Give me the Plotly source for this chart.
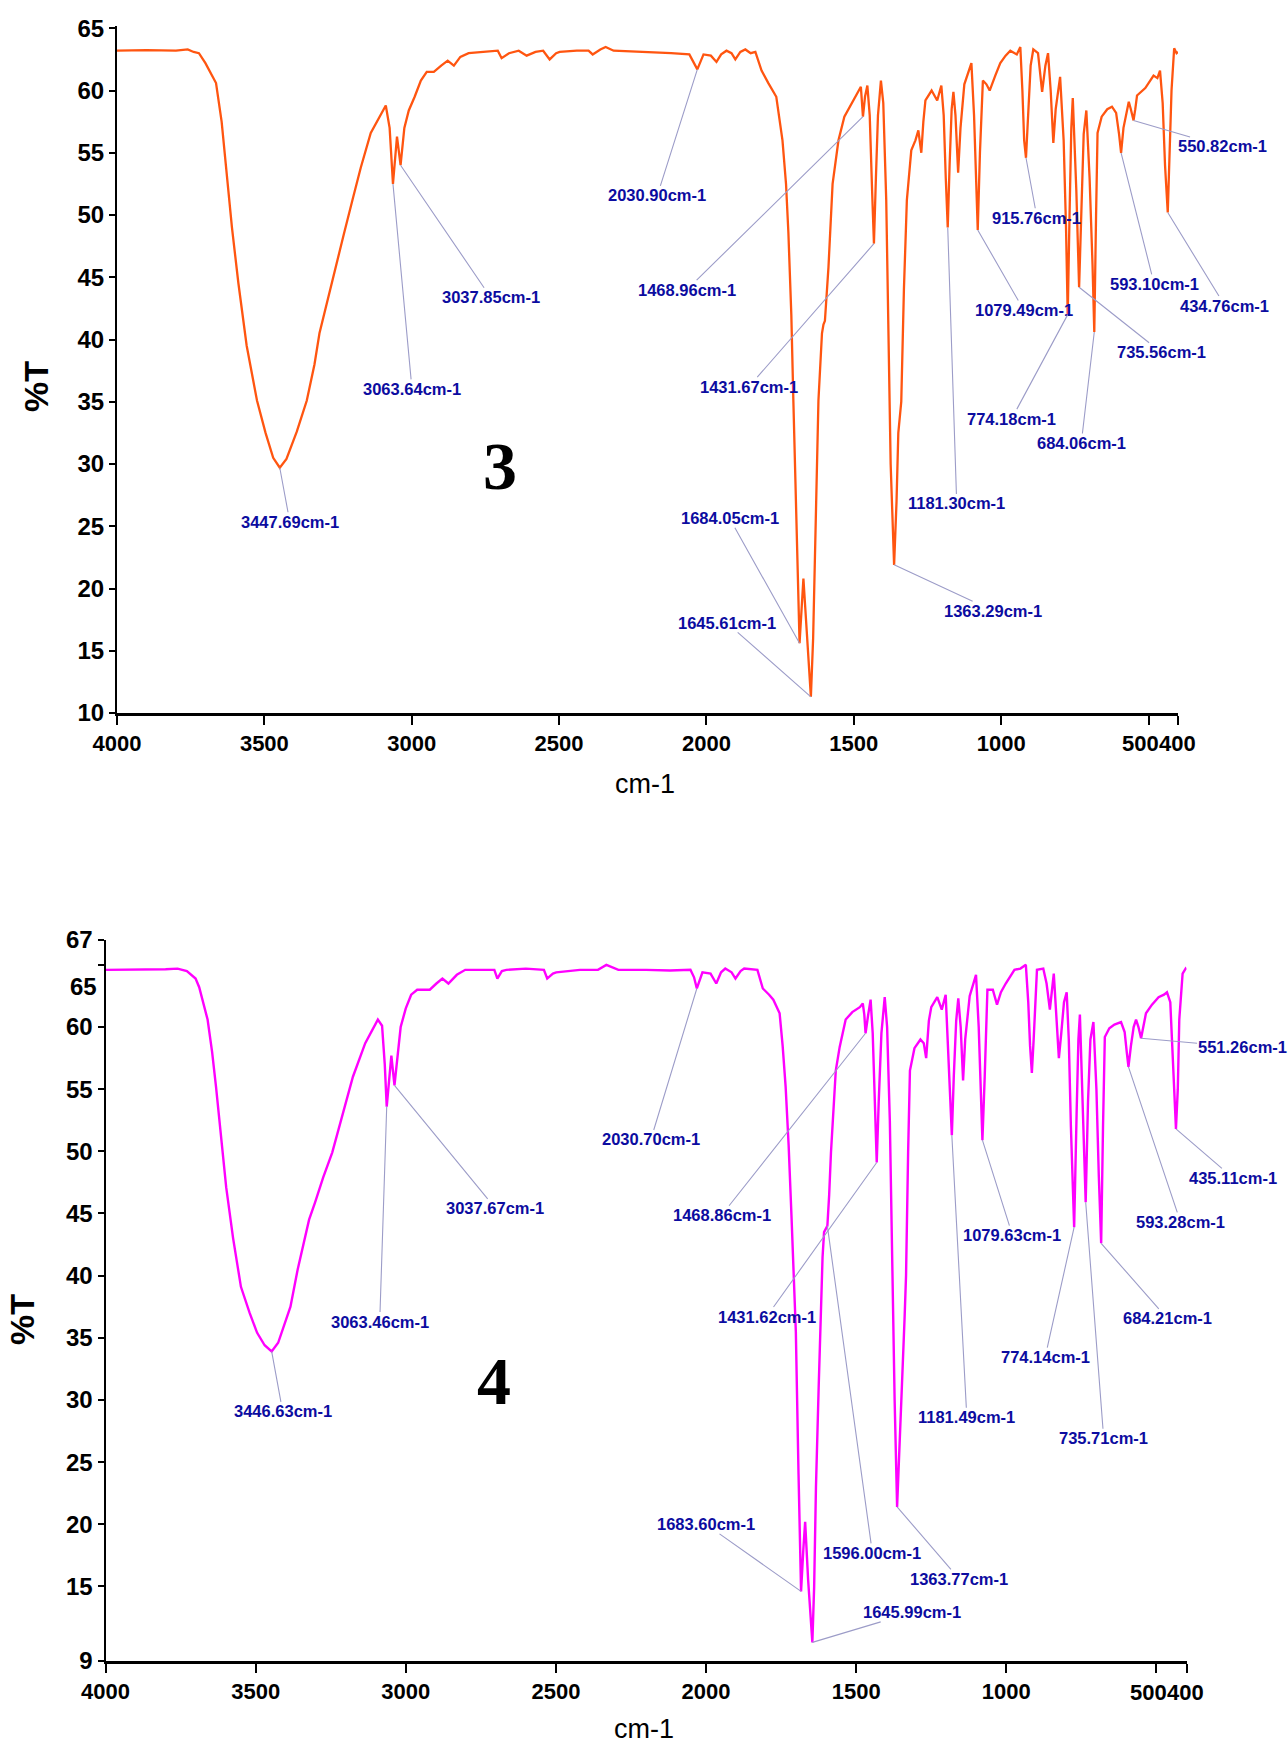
import plotly.graph_objects as go

# ---------------------------------------------------------------------------
# FT-IR spectra of compounds 3 and 4 (wavenumber / cm-1, transmittance / %T)
# ---------------------------------------------------------------------------
wn_3 = [4000, 3900, 3800, 3760, 3740, 3722, 3700, 3680, 3664, 3645, 3630, 3610,
        3588, 3560, 3525, 3496, 3470, 3447.69, 3425, 3410, 3390, 3356, 3330, 3313,
        3285, 3260, 3230, 3200, 3173, 3139, 3110, 3088, 3075, 3063.64, 3050, 3037.85,
        3025, 3010, 2990, 2969, 2949, 2925, 2900, 2878, 2857, 2835, 2807, 2760, 2708,
        2695, 2670, 2637, 2610, 2580, 2554, 2532, 2510, 2498, 2440, 2400, 2386, 2360,
        2342, 2315, 2250, 2180, 2120, 2058, 2030.90, 2010, 1985, 1966, 1950, 1932,
        1915, 1902, 1885, 1868, 1850, 1834, 1813, 1790, 1763, 1742, 1730, 1722, 1712,
        1705, 1695, 1684.05, 1671, 1660, 1645.61, 1638, 1630, 1620, 1608, 1603, 1598,
        1592, 1586, 1572, 1552, 1532, 1502, 1481, 1476, 1468.96, 1462, 1454, 1446,
        1438, 1431.67, 1425, 1418, 1408, 1400, 1390, 1383, 1375, 1363.29, 1355, 1349,
        1339, 1330, 1320, 1305, 1291, 1281, 1271, 1264, 1257, 1236, 1217, 1203, 1195,
        1188, 1181.30, 1175, 1168, 1162, 1155, 1146, 1138, 1125, 1101, 1092, 1085,
        1079.49, 1072, 1062, 1050, 1039, 1020, 1003, 985, 969, 947, 935, 928, 922,
        915.76, 909, 900, 891, 875, 861, 850, 841, 832, 823, 815, 800, 788, 780,
        774.18, 768, 762, 757, 745, 735.56, 728, 720, 711, 700, 690, 684.06, 678, 673,
        659, 640, 624, 610, 600, 593.10, 585, 567, 560, 550.82, 545, 539, 511, 483,
        470, 461, 452, 444, 434.76, 428, 422, 413, 405, 400]
t_3 = [63.2, 63.25, 63.2, 63.3, 63.1, 63.0, 62.2, 61.3, 60.6, 57.5, 53.8, 49.0,
       44.5, 39.5, 35.1, 32.5, 30.5, 29.7, 30.4, 31.3, 32.6, 35.1, 38.0, 40.5,
       43.2, 45.8, 48.5, 51.3, 53.8, 56.6, 57.8, 58.8, 57.0, 52.5, 56.3, 54.0,
       57.0, 58.4, 59.5, 60.8, 61.5, 61.5, 62.0, 62.4, 62.0, 62.7, 63.0, 63.1, 63.2,
       62.6, 63.0, 63.2, 62.8, 63.1, 63.2, 62.5, 63.0, 63.1, 63.2, 63.2, 62.9, 63.3,
       63.5, 63.2, 63.15, 63.1, 63.0, 62.9, 61.7, 62.9, 62.8, 62.3, 62.9, 63.2,
       63.0, 62.5, 63.1, 63.3, 63.0, 63.1, 61.6, 60.6, 59.5, 56.0, 52.5, 48.6, 42.0,
       35.0, 25.0, 15.6, 20.8, 17.0, 11.3, 16.0, 24.4, 35.1, 40.5, 41.2, 41.5,
       43.5, 45.8, 52.5, 56.0, 57.9, 59.2, 60.0, 60.3, 57.9, 59.5, 60.4, 58.0,
       52.0, 47.7, 53.0, 58.0, 60.8, 59.0, 51.2, 40.0, 30.0, 21.9, 27.0, 32.5,
       35.0, 44.0, 51.2, 55.2, 56.0, 56.8, 55.0, 57.5, 59.2, 60.0, 59.2, 60.4, 58.0,
       53.0, 49.0, 54.0, 58.5, 59.9, 58.0, 53.4, 57.0, 60.5, 62.2, 58.0, 52.0,
       48.8, 55.0, 60.8, 60.5, 60.0, 61.2, 62.2, 62.8, 63.2, 62.9, 63.5, 60.0, 56.0,
       54.6, 58.0, 62.0, 63.3, 63.0, 59.9, 62.0, 63.0, 60.0, 55.8, 58.5, 61.1, 56.0, 49.0,
       42.0, 50.0, 57.0, 59.4, 52.0, 44.2, 51.0, 56.5, 58.4, 53.0, 46.0, 40.6, 50.0, 56.6,
       57.9, 58.5, 58.7, 58.2, 56.5, 55.0, 57.0, 59.1, 58.5, 57.6, 58.5, 59.6, 60.2, 61.2,
       61.0, 61.6, 59.0, 54.0, 50.2, 55.0, 60.0, 63.4, 63.0, 63.1]

wn_4 = [4000, 3900, 3800, 3760, 3729, 3700, 3688, 3660, 3645, 3632, 3615, 3598,
        3575, 3549, 3520, 3495, 3470, 3446.63, 3425, 3410, 3398, 3384, 3360, 3340,
        3322, 3302, 3275, 3245, 3210, 3176, 3135, 3110, 3093, 3079, 3070, 3063.46,
        3048, 3037.67, 3027, 3017, 3000, 2982, 2962, 2940, 2920, 2898, 2878, 2858,
        2830, 2802, 2705, 2695, 2680, 2665, 2600, 2540, 2529, 2510, 2499, 2420, 2360,
        2332, 2292, 2200, 2120, 2052, 2040, 2030.70, 2012, 1985, 1966, 1950, 1936,
        1915, 1902, 1885, 1873, 1829, 1811, 1790, 1776, 1755, 1745, 1735, 1725, 1715,
        1708, 1701, 1692, 1683.60, 1676, 1670, 1660, 1645.99, 1640, 1634, 1625, 1619,
        1612, 1607, 1596.00, 1590, 1584, 1568, 1555, 1535, 1513, 1488, 1478, 1473,
        1468.86, 1460, 1452, 1445, 1438, 1431.62, 1425, 1416, 1405, 1397, 1388, 1380,
        1372, 1363.77, 1356, 1348, 1339, 1334, 1327, 1321, 1306, 1286, 1275, 1267,
        1258, 1250, 1230, 1215, 1202, 1195, 1188, 1181.49, 1175, 1167, 1160, 1152,
        1144, 1137, 1122, 1101, 1092, 1086, 1079.63, 1072, 1063, 1045, 1031, 1018,
        1002, 973, 953, 935, 927, 921, 915, 909, 903, 898, 877, 866, 855, 848, 842,
        835, 825, 817, 808, 799, 792, 785, 774.14, 766, 760, 755, 748, 741, 735.71,
        728, 720, 710, 700, 692, 684.21, 678, 672, 657, 640, 618, 606, 599, 593.28,
        585, 576, 568, 560, 551.26, 545, 535, 515, 493, 475, 465, 454, 446, 440,
        435.11, 429, 424, 413, 403, 400]
t_4 = [64.6, 64.6, 64.65, 64.7, 64.5, 63.9, 63.2, 60.6, 58.0, 55.2, 51.0, 47.1,
       43.0, 39.1, 37.0, 35.4, 34.4, 33.9, 34.6, 35.6, 36.5, 37.5, 40.5, 42.5,
       44.5, 45.9, 47.9, 49.9, 53.0, 56.0, 58.7, 59.9, 60.6, 60.1, 57.0, 53.6,
       57.7, 55.3, 58.0, 60.0, 61.5, 62.6, 63.0, 63.0, 63.0, 63.5, 63.9, 63.5,
       64.2, 64.6, 64.6, 63.9, 64.5, 64.6, 64.7, 64.6, 63.9, 64.3, 64.4, 64.6, 64.6,
       65.0, 64.6, 64.6, 64.55, 64.6, 64.0, 63.1, 64.4, 64.3, 63.5, 64.4, 64.7,
       64.4, 63.9, 64.5, 64.7, 64.6, 63.1, 62.6, 62.2, 61.1, 58.5, 55.2, 50.5, 44.5,
       39.5, 35.5, 24.0, 14.6, 18.0, 20.2, 15.5, 10.5, 15.0, 23.0, 31.0, 36.5,
       41.5, 43.5, 44.0, 46.5, 49.9, 56.5, 58.4, 60.6, 61.2, 61.6, 61.9, 61.0,
       59.5, 61.0, 62.2, 59.5, 54.0, 49.1, 54.0, 59.5, 62.4, 60.0, 52.5, 40.0,
       30.0, 21.4, 25.5, 31.0, 36.5, 40.0, 50.0, 56.5, 58.3, 59.0, 58.7, 57.5,
       60.5, 61.6, 62.4, 61.4, 62.6, 59.0, 54.5, 51.3, 56.0, 60.5, 62.3, 60.0,
       55.7, 59.0, 62.5, 64.2, 60.0, 55.0, 50.9, 56.0, 63.0, 63.0, 61.8, 62.8,
       63.5, 64.6, 64.7, 65.0, 62.0, 58.5, 56.3, 59.0, 62.5, 64.6, 64.7, 63.5, 61.4, 63.0, 64.3,
       61.5, 57.5, 59.5, 62.0, 62.8, 59.0, 52.0, 43.9, 53.0, 59.0, 61.0, 56.0, 50.0, 45.9,
       54.0, 59.0, 60.4, 55.0, 48.0, 42.6, 52.0, 59.2, 59.9, 60.2, 60.4, 59.6, 58.0, 56.8,
       58.5, 60.0, 60.6, 60.0, 59.1, 60.0, 61.1, 61.8, 62.4, 62.6, 62.8, 62.0, 58.0, 54.0,
       51.8, 55.0, 60.6, 64.3, 64.7, 64.6]

# Labelled band positions (cm-1)
peaks_3 = [3447.69, 3063.64, 3037.85, 2030.90, 1468.96, 1431.67, 1684.05, 1645.61,
           1363.29, 1181.30, 1079.49, 915.76, 774.18, 735.56, 684.06, 593.10,
           550.82, 434.76]
peaks_4 = [3446.63, 3063.46, 3037.67, 2030.70, 1468.86, 1431.62, 1683.60, 1645.99,
           1596.00, 1363.77, 1181.49, 1079.63, 774.14, 735.71, 684.21, 593.28,
           551.26, 435.11]

x_ticks = [4000, 3500, 3000, 2500, 2000, 1500, 1000, 500, 400]
y_ticks_3 = [10, 15, 20, 25, 30, 35, 40, 45, 50, 55, 60, 65]
y_ticks_4 = [9, 15, 20, 25, 30, 35, 40, 45, 50, 55, 60, 65, 67]

# ---------------------------------------------------------------------------
# Layout helpers (paper coordinates from pixel positions)
# ---------------------------------------------------------------------------
W, H = 1288, 1747
SANS = "Liberation Sans, Arial, sans-serif"
SERIF = "Liberation Serif, Times New Roman, serif"
LABEL_BLUE = "#0c0ca0"
LEADER = "#9c9cc8"


def fx(p):
    return p / W


def fy(p):
    return 1 - p / H


# Text offsets (pixels, relative to the labelled point) for each band label
offsets_3 = [(10, 54), (19, 205), (90, 132), (-40, 126), (-176, 173), (-125, 143),
             (-70, -125), (-84, -74), (99, 46), (9, 276), (46, 80), (11, 60),
             (-56, 104), (82, 65), (-13, 111), (33, 131), (89, 26), (57, 93)]
offsets_4 = [(11, 60), (-7, 215), (101, 123), (-46, 151), (-144, 182), (-110, 154),
             (-95, -67), (100, -30), (45, 327), (62, 72), (15, 282), (30, 95),
             (-29, 130), (18, 236), (66, 75), (52, 155), (101, 9), (57, 49)]

fig = go.Figure()
fig.add_trace(go.Scatter(x=wn_3, y=t_3, mode="lines", xaxis="x", yaxis="y",
                         line=dict(color="#ff5510", width=2.3), showlegend=False))
fig.add_trace(go.Scatter(x=wn_4, y=t_4, mode="lines", xaxis="x2", yaxis="y2",
                         line=dict(color="#ff00ff", width=2.4), showlegend=False))

annotations = []


def band_labels(peaks, wn, t, offsets, xref, yref):
    for p, (dx, dy) in zip(peaks, offsets):
        annotations.append(dict(
            x=p, y=t[wn.index(p)], xref=xref, yref=yref,
            text=f"{p:.2f}cm-1", showarrow=True, arrowhead=0, arrowwidth=1.1,
            arrowcolor=LEADER, ax=dx, ay=dy, standoff=0, borderpad=0,
            font=dict(family=SANS, size=16.5, color=LABEL_BLUE, weight="bold"),
        ))


band_labels(peaks_3, wn_3, t_3, offsets_3, "x", "y")
band_labels(peaks_4, wn_4, t_4, offsets_4, "x2", "y2")


def paper_text(x, y, text, size, family=SANS, weight="normal", angle=0,
               xanchor="center"):
    annotations.append(dict(x=fx(x), y=fy(y), xref="paper", yref="paper", text=text,
                            textangle=angle, showarrow=False, xanchor=xanchor,
                            yanchor="middle", borderpad=0,
                            font=dict(family=family, size=size, color="black",
                                      weight=weight)))


# Axis titles
paper_text(36, 387, "%T", 34, weight="bold", angle=-90)
paper_text(22, 1320, "%T", 34, weight="bold", angle=-90)
paper_text(645, 784, "cm-1", 27)
paper_text(644, 1729, "cm-1", 27)
# Compound numbers
paper_text(500, 466, "3", 68, family=SERIF, weight="bold")
paper_text(494, 1381, "4", 68, family=SERIF, weight="bold")
# Tick labels drawn by hand where neighbours touch
paper_text(98, 986, "65", 24, weight="bold", xanchor="right")
paper_text(1160, 743, "500", 22, weight="bold", xanchor="right")
paper_text(1158, 743, "400", 22, weight="bold", xanchor="left")
paper_text(1168, 1692, "500", 22, weight="bold", xanchor="right")
paper_text(1166, 1692, "400", 22, weight="bold", xanchor="left")

xtickfont = dict(family=SANS, size=22, color="black", weight="bold")
ytickfont = dict(family=SANS, size=24, color="black", weight="bold")


def xaxis_style(domain, anchor):
    return dict(domain=domain, anchor=anchor, range=[4000, 400], tickmode="array",
                tickvals=x_ticks,
                ticktext=["" if v in (500, 400) else str(v) for v in x_ticks],
                tickangle=0, automargin=False,
                showline=True, linecolor="black", linewidth=3, ticks="outside",
                ticklen=9, tickwidth=2, tickcolor="black", showgrid=False,
                zeroline=False, tickfont=xtickfont)


def yaxis_style(domain, anchor, rng, ticks, ticktext):
    return dict(domain=domain, anchor=anchor, range=rng, tickmode="array",
                tickvals=ticks, ticktext=ticktext, automargin=False, showline=True,
                linecolor="black", linewidth=2, ticks="outside", ticklen=6,
                tickwidth=2, tickcolor="black", showgrid=False, zeroline=False,
                tickfont=ytickfont)


fig.update_layout(
    template="none",
    width=W, height=H, margin=dict(l=0, r=0, t=0, b=0, autoexpand=False),
    paper_bgcolor="white", plot_bgcolor="white",
    xaxis=xaxis_style([fx(117), fx(1178)], "y"),
    yaxis=yaxis_style([fy(713), fy(25.8)], "x", [10, 65.2], y_ticks_3,
                      [str(v) for v in y_ticks_3]),
    xaxis2=xaxis_style([fx(105.5), fx(1186.5)], "y2"),
    yaxis2=yaxis_style([fy(1661), fy(940)], "x2", [9, 67], y_ticks_4,
                       ["" if v == 65 else str(v) for v in y_ticks_4]),
    annotations=annotations,
)

fig.write_html("out.html")
